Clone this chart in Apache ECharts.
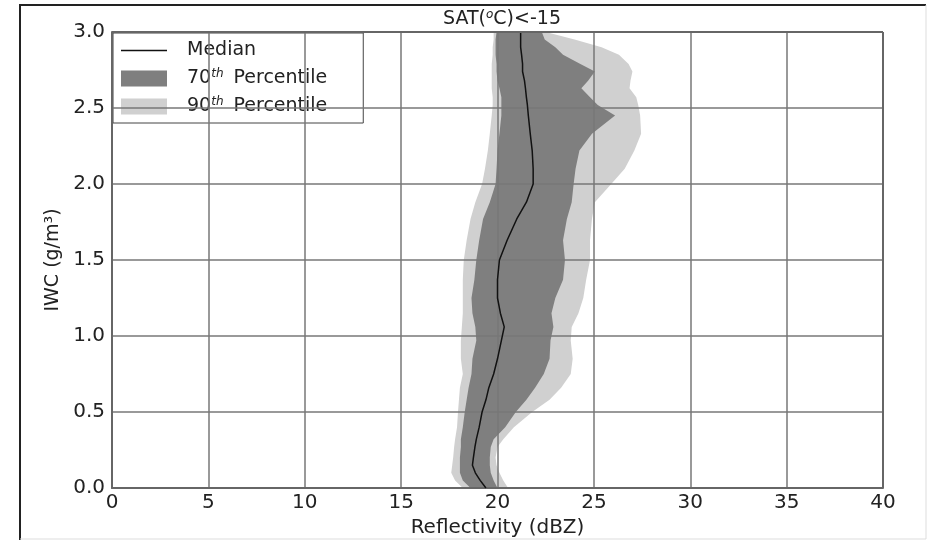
<!DOCTYPE html>
<html>
<head>
<meta charset="utf-8">
<script src="https://cdn.jsdelivr.net/npm/echarts@6/dist/echarts.min.js"></script>
<style>
  html, body { margin: 0; padding: 0; background: #fff; }
  #main { width: 928px; height: 541px; }
</style>
</head>
<body>
<div id="main"></div>
<script type="text/javascript">
// IWC levels (g/m3), shared by every profile below
var iwc = [0.00, 0.05, 0.10, 0.15, 0.20, 0.27, 0.32, 0.40, 0.50, 0.58, 0.66, 0.75, 0.85, 0.97,
           1.06, 1.15, 1.25, 1.37, 1.50, 1.63, 1.77, 1.88, 2.00, 2.10, 2.22, 2.33, 2.45, 2.52,
           2.57, 2.63, 2.68, 2.74, 2.79, 2.85, 2.90, 2.95, 3.00];

// reflectivity (dBZ) at each level
var median = [19.4, 19.1, 18.85, 18.7, 18.75, 18.83, 18.9, 19.05, 19.2, 19.4, 19.55, 19.8, 20.0, 20.2,
              20.35, 20.15, 20.0, 20.0, 20.1, 20.5, 21.0, 21.5, 21.85, 21.85, 21.8, 21.7, 21.6, 21.55,
              21.5, 21.45, 21.4, 21.3, 21.3, 21.25, 21.2, 21.2, 21.2];
var p70lo = [18.6, 18.2, 18.05, 18.05, 18.05, 18.1, 18.1, 18.2, 18.3, 18.4, 18.5, 18.65, 18.7, 18.9,
             18.85, 18.7, 18.65, 18.8, 18.9, 19.05, 19.25, 19.6, 19.9, 19.95, 20.0, 20.1, 20.2, 20.2,
             20.2, 20.1, 20.0, 19.95, 19.95, 19.9, 19.9, 19.9, 19.95];
var p70hi = [20.0, 19.8, 19.65, 19.6, 19.6, 19.65, 19.8, 20.4, 20.95, 21.5, 21.95, 22.4, 22.7, 22.75,
             22.9, 22.8, 23.0, 23.4, 23.5, 23.4, 23.6, 23.85, 23.95, 24.05, 24.25, 24.9, 26.1, 25.2,
             24.8, 24.35, 24.7, 25.05, 24.3, 23.4, 23.0, 22.45, 22.3];
var p90lo = [18.2, 17.8, 17.6, 17.65, 17.7, 17.75, 17.8, 17.9, 17.95, 18.0, 18.05, 18.2, 18.1, 18.1,
             18.15, 18.2, 18.2, 18.2, 18.25, 18.4, 18.6, 18.85, 19.2, 19.35, 19.5, 19.6, 19.7, 19.75,
             19.75, 19.7, 19.7, 19.7, 19.7, 19.75, 19.75, 19.8, 19.8];
var p90hi = [20.55, 20.3, 20.1, 19.95, 19.9, 20.0, 20.3, 20.85, 21.8, 22.7, 23.3, 23.8, 23.9, 23.8,
             23.85, 24.2, 24.45, 24.6, 24.8, 24.8, 24.9, 25.05, 25.9, 26.6, 27.1, 27.45, 27.4, 27.3,
             27.2, 26.85, 26.9, 27.0, 26.8, 26.3, 25.4, 24.0, 22.5];

var xTicks = [0, 5, 10, 15, 20, 25, 30, 35, 40];
var yTicks = [0.0, 0.5, 1.0, 1.5, 2.0, 2.5, 3.0];

var FONT = 'DejaVu Sans';

function bandData(lo, hi) {
    var pts = [];
    for (var i = 0; i < iwc.length; i++) pts.push([lo[i], iwc[i]]);
    for (var j = iwc.length - 1; j >= 0; j--) pts.push([hi[j], iwc[j]]);
    return pts;
}

function bandSeries(name, lo, hi, color, z) {
    var pts = bandData(lo, hi);
    return {
        name: name,
        type: 'custom',
        z: z,
        data: pts,
        encode: { x: 0, y: 1 },
        itemStyle: { color: color },
        renderItem: function (params, api) {
            if (params.dataIndex !== 0) return;
            var coords = pts.map(function (p) { return api.coord(p); });
            return {
                type: 'polygon',
                shape: { points: coords },
                style: { fill: color }
            };
        }
    };
}

var medianData = median.map(function (v, i) { return [v, iwc[i]]; });

// thin bar for the Median legend sample (the M points keep the full box)
var lineIcon = 'path://M0,0 M46,16 M0,7.3 L46,7.3 L46,8.7 L0,8.7 Z';

var chart = echarts.init(document.getElementById('main'));

var option = {
    animation: false,
    backgroundColor: '#fff',
    textStyle: { fontFamily: FONT },
    title: {
        text: 'SAT({sup|o}C)<-15',
        left: 497,
        top: 4,
        textAlign: 'center',
        textStyle: {
            fontFamily: FONT, fontSize: 19, fontWeight: 'normal', color: '#222',
            rich: { sup: { fontFamily: FONT, fontSize: 12, fontStyle: 'italic', verticalAlign: 'top', padding: [0, 0, 9, 0], color: '#222' } }
        }
    },
    grid: { left: 112, right: 45, top: 32, bottom: 53, outerBoundsMode: 'none', containLabel: false },
    legend: {
        orient: 'vertical',
        left: 113,
        top: 33,
        padding: [8, 36, 7, 8],
        itemGap: 8,
        itemWidth: 46,
        itemHeight: 16,
        backgroundColor: '#fff',
        borderColor: '#444',
        borderWidth: 1,
        borderRadius: 0,
        data: [
            { name: 'Median', icon: lineIcon },
            { name: '70th Percentile', icon: 'rect' },
            { name: '90th Percentile', icon: 'rect' }
        ],
        formatter: function (name) {
            return name.replace(/(\d+)th/, '$1{sup|th}');
        },
        textStyle: {
            fontFamily: FONT, fontSize: 19, color: '#222', padding: [0, 0, 0, 15],
            rich: { sup: { fontFamily: FONT, fontSize: 12, fontStyle: 'italic', verticalAlign: 'top', padding: [0, 4, 9, 0], color: '#222' } }
        }
    },
    xAxis: {
        type: 'value',
        min: 0,
        max: 40,
        interval: 5,
        z: 5,
        name: 'Reflectivity (dBZ)',
        nameLocation: 'middle',
        nameGap: 23,
        nameTextStyle: { fontFamily: FONT, fontSize: 20, color: '#222' },
        axisLine: { show: true, onZero: false, lineStyle: { color: '#666', width: 2 } },
        axisTick: { show: false },
        axisLabel: {
            fontFamily: FONT, fontSize: 20, color: '#222', margin: 5,
            formatter: function (v) { return xTicks.indexOf(v) >= 0 ? String(v) : ''; }
        },
        splitLine: { show: true, lineStyle: { color: '#777', width: 1.5 } }
    },
    yAxis: {
        type: 'value',
        min: 0,
        max: 3,
        interval: 0.5,
        z: 5,
        name: 'IWC (g/m³)',
        nameLocation: 'middle',
        nameGap: 32,
        nameTextStyle: { fontFamily: FONT, fontSize: 19, color: '#222' },
        axisLine: { show: true, onZero: false, lineStyle: { color: '#666', width: 2 } },
        axisTick: { show: false },
        axisLabel: {
            fontFamily: FONT, fontSize: 20, color: '#222', margin: 7,
            formatter: function (v) { return yTicks.indexOf(v) >= 0 ? v.toFixed(1) : ''; }
        },
        splitLine: { show: true, lineStyle: { color: '#777', width: 1.5 } }
    },
    graphic: [
        // right and top plot spines
        { type: 'line', shape: { x1: 883, y1: 32, x2: 883, y2: 488 }, style: { stroke: '#666', lineWidth: 2 }, z: 10 },
        { type: 'line', shape: { x1: 112, y1: 32, x2: 883, y2: 32 }, style: { stroke: '#666', lineWidth: 2 }, z: 10 },
        // picture frame
        { type: 'polyline', shape: { points: [[20, 540], [20, 5], [926, 5]] }, style: { stroke: '#222', lineWidth: 2, fill: null }, z: 10 },
        { type: 'polyline', shape: { points: [[926, 5], [926, 539], [20, 539]] }, style: { stroke: '#ddd', lineWidth: 1, fill: null }, z: 10 }
    ],
    series: [
        bandSeries('90th Percentile', p90lo, p90hi, '#d0d0d0', 1),
        bandSeries('70th Percentile', p70lo, p70hi, '#7f7f7f', 2),
        {
            name: 'Median',
            type: 'line',
            z: 8,
            data: medianData,
            showSymbol: false,
            symbol: 'none',
            smooth: false,
            itemStyle: { color: '#111' },
            lineStyle: { color: '#111', width: 1.5 }
        }
    ]
};

chart.setOption(option);
</script>
</body>
</html>
